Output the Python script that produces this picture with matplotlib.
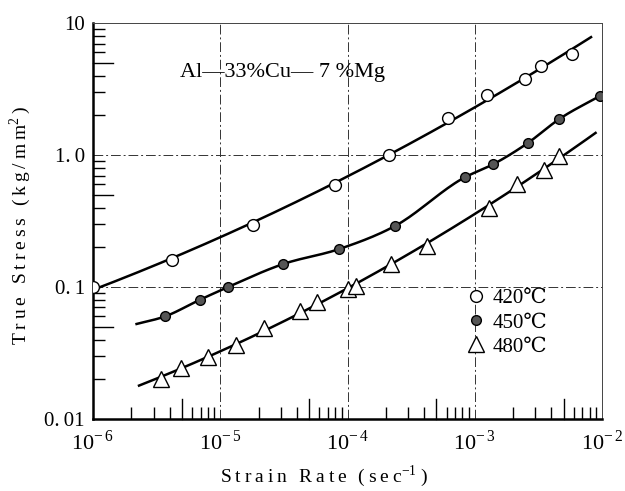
import numpy as np
import matplotlib
matplotlib.use("Agg")
import matplotlib.pyplot as plt
from matplotlib.ticker import LogLocator, NullFormatter, FixedLocator

plt.rcParams['font.family'] = ['Liberation Serif', 'DejaVu Serif', 'DejaVu Sans']
plt.rcParams['mathtext.fontset'] = 'custom'
plt.rcParams['mathtext.rm'] = 'Liberation Serif'

# strain rate (1/s) and true stress (kg/mm^2)
rate_420 = [1.0e-6, 4.2e-6, 1.8e-5, 8.0e-5, 2.1e-4, 6.2e-4, 1.25e-3, 2.5e-3, 3.3e-3, 5.8e-3]
stress_420 = [0.100, 0.160, 0.295, 0.59, 1.00, 1.90, 2.85, 3.75, 4.7, 5.8]
curve_420 = (1.0e-6, 8.2e-3)

rate_450 = [3.7e-6, 6.9e-6, 1.15e-5, 3.1e-5, 8.6e-5, 2.36e-4, 8.4e-4, 1.39e-3, 2.6e-3, 4.6e-3, 9.6e-3]
stress_450 = [0.060, 0.080, 0.100, 0.149, 0.194, 0.29, 0.68, 0.85, 1.23, 1.87, 2.8]
# hand-drawn line for 450 starts a bit left of the first point
line_450_start = (2.2e-6, 0.0525)

rate_480 = [3.4e-6, 4.9e-6, 8.0e-6, 1.33e-5, 2.2e-5, 4.2e-5, 5.75e-5, 1.0e-4, 1.17e-4,
            2.2e-4, 4.2e-4, 1.3e-3, 2.15e-3, 3.5e-3, 4.6e-3]
stress_480 = [0.0201, 0.0243, 0.0295, 0.0363, 0.049, 0.066, 0.077, 0.0966, 0.102,
              0.149, 0.204, 0.40, 0.60, 0.77, 0.98]
curve_480 = (2.3e-6, 8.9e-3)

labels = ["420℃", "450℃", "480℃"]


def fit_curve(x, y, span, deg=2):
    lx, ly = np.log10(x), np.log10(y)
    p = np.polyfit(lx, ly, deg)
    xs = np.linspace(np.log10(span[0]), np.log10(span[1]), 200)
    return 10 ** xs, 10 ** np.polyval(p, xs)


def hermite_path(x, y, n=20):
    # smooth curve through the points, in log-log space
    lx, ly = np.log10(x), np.log10(y)
    h = np.diff(lx)
    d = np.diff(ly) / h
    m = np.empty_like(lx)
    m[0], m[-1] = d[0], d[-1]
    m[1:-1] = (d[:-1] * h[1:] + d[1:] * h[:-1]) / (h[:-1] + h[1:])
    xs, ys = [], []
    for i in range(len(h)):
        t = np.linspace(0, 1, n, endpoint=(i == len(h) - 1))
        h00 = 2 * t**3 - 3 * t**2 + 1
        h10 = t**3 - 2 * t**2 + t
        h01 = -2 * t**3 + 3 * t**2
        h11 = t**3 - t**2
        xs.append(lx[i] + t * h[i])
        ys.append(h00 * ly[i] + h10 * h[i] * m[i] + h01 * ly[i + 1] + h11 * h[i] * m[i + 1])
    return 10 ** np.concatenate(xs), 10 ** np.concatenate(ys)


def spaced(s):
    return "\u2009".join(s)


fig = plt.figure(figsize=(6.25, 4.91), dpi=100)
ax = fig.add_axes([0.1488, 0.1466, 0.8144, 0.8064])
ax.set_xscale("log")
ax.set_yscale("log")
ax.set_xlim(1e-6, 1e-2)
ax.set_ylim(0.01, 10)

# grid
for gx in [1e-5, 1e-4, 1e-3]:
    ax.axvline(gx, color="#333333", lw=0.7, ls=(0, (10, 3, 2, 3)), zorder=1)
for gy in [0.1, 1.0]:
    ax.axhline(gy, color="#333333", lw=0.7, ls=(0, (10, 3, 2, 3)), zorder=1)

# lines
cx, cy = fit_curve(rate_420, stress_420, curve_420)
ax.plot(cx, cy, color="black", lw=1.8, zorder=2)
cx, cy = hermite_path([line_450_start[0]] + rate_450, [line_450_start[1]] + stress_450)
ax.plot(cx, cy, color="black", lw=1.8, zorder=2)
cx, cy = fit_curve(rate_480, stress_480, curve_480)
ax.plot(cx, cy, color="black", lw=1.8, zorder=2)

# markers
h1, = ax.plot(rate_420, stress_420, ls="none", marker="o", ms=8.5, mfc="white",
              mec="black", mew=1.0, zorder=3, label=labels[0])
h2, = ax.plot(rate_450, stress_450, ls="none", marker="o", ms=7, mfc="#555555",
              mec="black", mew=1.0, zorder=3, label=labels[1])
h3, = ax.plot(rate_480, stress_480, ls="none", marker="^", ms=12, mfc="white",
              mec="black", mew=1.0, zorder=3, label=labels[2])

# spines
for s in ["left", "bottom"]:
    ax.spines[s].set_linewidth(1.8)
for s in ["top", "right"]:
    ax.spines[s].set_linewidth(0.7)
    ax.spines[s].set_color("#444444")

# ticks
ax.xaxis.set_major_locator(FixedLocator([1e-6, 1e-5, 1e-4, 1e-3, 1e-2]))
ax.set_xticklabels([r"$10^{-\,6}$", r"$10^{-\,5}$", r"$10^{-\,4}$", r"$10^{-\,3}$", r"$10^{-\,2}$"])
ax.yaxis.set_major_locator(FixedLocator([0.01, 0.1, 1.0, 10]))
ax.set_yticklabels(["0.\u200901", "0.\u20091", "1.\u20090", "10"])
ax.tick_params(which="major", length=0, pad=6, labelsize=15)
ax.tick_params(axis="x", which="major", pad=8, labelsize=16)

minor = [2, 3, 4, 6, 7, 8, 9]
for axis in [ax.xaxis, ax.yaxis]:
    axis.set_minor_locator(LogLocator(base=10, subs=minor))
    axis.set_minor_formatter(NullFormatter())
ax.tick_params(which="minor", direction="in", length=8.5, width=1.0, top=False, right=False)
# longer tick at 5 x each decade
for d in [1e-6, 1e-5, 1e-4, 1e-3]:
    ax.plot([5 * d, 5 * d], [0.01, 0.01 * 10 ** (20 / 132)], color="black", lw=1.0, zorder=2,
            clip_on=False)
for d in [0.01, 0.1, 1.0]:
    ax.plot([1e-6, 1e-6 * 10 ** (20 / 127)], [5 * d, 5 * d], color="black", lw=1.0, zorder=2,
            clip_on=False)

ax.set_xlabel(spaced("Strain Rate") + "\u2009\u2009\u2009" + spaced("(sec") + "$^{-1}$" + "\u2009)",
              fontsize=14)
ax.xaxis.set_label_coords(0.454, -0.113)
ax.set_ylabel(spaced("True Stress") + "\u2009\u2009\u2009" + spaced("(kg/mm") + "$^2$" + "\u2009)",
              fontsize=14)
ax.yaxis.set_label_coords(-0.118, 0.49)

ax.text(0.17, 0.876, "Al—33%Cu— 7 %Mg", transform=ax.transAxes, fontsize=16,
        ha="left", va="center")

ax.legend(handles=[h1, h2, h3], loc="upper left", bbox_to_anchor=(0.715, 0.35), frameon=False,
          fontsize=15, handletextpad=0.3, labelspacing=0.22, borderaxespad=0, handlelength=1.0)

fig.savefig("out.png", dpi=100)
